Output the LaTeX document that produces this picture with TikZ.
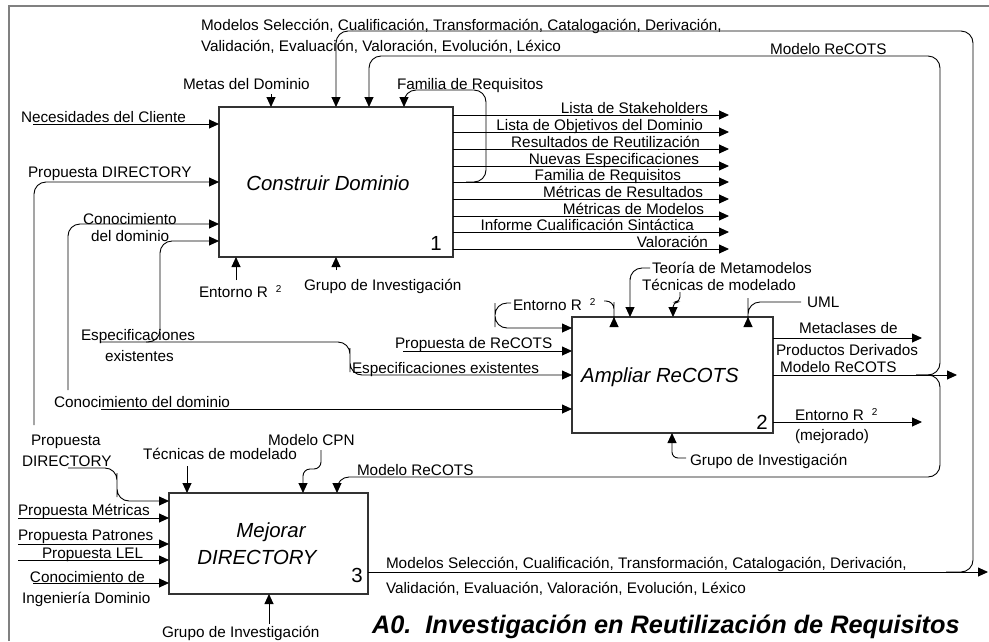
\documentclass[tikz,border=0pt]{standalone}
\usepackage{fontspec}
\setmainfont{Liberation Sans}
\usetikzlibrary{arrows.meta}
\newcommand\entornoRdos{Entorno R\hspace{8pt}\raisebox{5pt}{\fontsize{10}{10}\selectfont 2}}
\begin{document}
\begin{tikzpicture}[x=1pt,y=-1pt,
  every node/.style={inner sep=0pt, outer sep=0pt},
  lbl/.style={font=\fontsize{15.3}{18}\selectfont, anchor=base west},
  lblr/.style={font=\fontsize{15.3}{18}\selectfont, anchor=base east},
  box/.style={draw=black!80, line width=1.2pt, fill=white},
  ttl/.style={font=\fontsize{20.4}{24}\selectfont\itshape, anchor=base},
  num/.style={font=\fontsize{20.4}{24}\selectfont, anchor=base},
  arr/.style={line width=0.9pt, -{Triangle[length=10pt,width=9pt]}},
  rc/.style={rounded corners=12pt},
  frame/.style={draw=black!50, line width=2pt}
]
\useasboundingbox (0,0) rectangle (989,641);
\draw[frame] (9,641) -- (9,6) -- (989,6);

% activity boxes
\node[box, minimum width=234pt, minimum height=150pt] (b1) at (336,182) {};
\node[box, minimum width=201pt, minimum height=116pt] (b2) at (672.5,375) {};
\node[box, minimum width=199pt, minimum height=101pt] (b3) at (268.5,543.5) {};

\node[ttl] (t1) at (328,190) {Construir Dominio};
\node[num] (n1) at (436,250) {1};
\node[ttl] (t2) at (660,382) {Ampliar ReCOTS};
\node[num] (n2) at (762,429) {2};
\node[ttl] (t3a) at (271,537) {Mejorar};
\node[ttl] (t3b) at (257,564) {DIRECTORY};
\node[num] (n3) at (357,582) {3};

% ---------- labels around box 1
\node[lbl] (lMod1) at (201,30) {Modelos Selección, Cualificación, Transformación, Catalogación, Derivación,};
\node[lbl] (lMod2) at (201,51) {Validación, Evaluación, Valoración, Evolución, Léxico};
\node[lbl] (lRec1) at (770,54) {Modelo ReCOTS};
\node[lbl] (lMetas) at (183,89) {Metas del Dominio};
\node[lbl] (lFamT) at (397,89) {Familia de Requisitos};
\node[lbl] (lNec) at (21,122) {Necesidades del Cliente};
\node[lbl] (lDir1) at (28,177) {Propuesta DIRECTORY};
\node[lbl] (lCon1a) at (83,224) {Conocimiento};
\node[lbl] (lCon1b) at (91,241) {del dominio};
\node[lbl] (lEnt1) at (199,297) {\entornoRdos};
\node[lbl] (lGru1) at (304,290) {Grupo de Investigación};

\node[lblr] (o1l) at (708,113) {Lista de Stakeholders};
\node[lblr] (o2l) at (703,130) {Lista de Objetivos del Dominio};
\node[lblr] (o3l) at (700,147) {Resultados de Reutilización};
\node[lblr] (o4l) at (699,164) {Nuevas Especificaciones};
\node[lblr] (o5l) at (681,180) {Familia de Requisitos};
\node[lblr] (o6l) at (703,197) {Métricas de Resultados};
\node[lblr] (o7l) at (704,214) {Métricas de Modelos};
\node[lblr] (o8l) at (694,230) {Informe Cualificación Sintáctica};
\node[lblr] (o9l) at (708,247) {Valoración};

% ---------- labels around box 2
\node[lbl] (lTeo) at (652,273) {Teoría de Metamodelos};
\node[lbl] (lTec2) at (642,290) {Técnicas de modelado};
\node[lbl] (lEnt2) at (513,310) {\entornoRdos};
\node[lbl] (lUml) at (807,307) {UML};
\node[lbl] (lEsp1a) at (81,340) {Especificaciones};
\node[lbl] (lEsp1b) at (105,361) {existentes};
\node[lbl] (lProRe) at (395,348) {Propuesta de ReCOTS};
\node[lbl] (lEsp2) at (352,373) {Especificaciones existentes};
\node[lbl] (lCon2) at (54,407) {Conocimiento del dominio};
\node[lbl] (lMeta1) at (799,333) {Metaclases de};
\node[lbl] (lMeta2) at (776,355) {Productos Derivados};
\node[lbl] (lRec2) at (780,372) {Modelo ReCOTS};
\node[lbl] (lEnt3) at (795,420) {\entornoRdos};
\node[lbl] (lMej) at (795,440) {(mejorado)};
\node[lbl] (lGru2) at (690,465) {Grupo de Investigación};

% ---------- labels around box 3
\node[lbl] (lDir3a) at (31,445) {Propuesta};
\node[lbl] (lDir3b) at (22,466) {DIRECTORY};
\node[lbl] (lTec3) at (143,459) {Técnicas de modelado};
\node[lbl] (lCpn) at (268,445) {Modelo CPN};
\node[lbl] (lRec3) at (357,475) {Modelo ReCOTS};
\node[lbl] (lMet) at (18,515) {Propuesta Métricas};
\node[lbl] (lPat) at (18,540) {Propuesta Patrones};
\node[lbl] (lLel) at (42,558) {Propuesta LEL};
\node[lbl] (lCIa) at (30,582) {Conocimiento de};
\node[lbl] (lCIb) at (22,603) {Ingeniería Dominio};
\node[lbl] (lGru3) at (162,637) {Grupo de Investigación};
\node[lbl] (lOut3a) at (386,568) {Modelos Selección, Cualificación, Transformación, Catalogación, Derivación,};
\node[lbl] (lOut3b) at (386,593) {Validación, Evaluación, Valoración, Evolución, Léxico};

\node[font=\fontsize{25.3}{30}\selectfont\bfseries\itshape, anchor=base west] (title) at (372,633)
  {A0.\ \ Investigación en Reutilización de Requisitos};

% ---------- free ends of the arrows
\coordinate (inNec) at (33,124);
\coordinate (inDir) at (34,425);
\coordinate (inCon) at (68,390);
\coordinate (esJoin) at (146,342);
\coordinate (esStart) at (100,342);
\coordinate (conStart) at (101,409);
\coordinate (proRe) at (403,351);
\coordinate (metas) at (271,94);
\coordinate (modJoin) at (946,572);
\coordinate (recJoin) at (916,375);
\coordinate (famJoin) at (466,182);
\coordinate (ent1) at (236,280);
\coordinate (gru1) at (336,270);
\coordinate (entLoop) at (511,303);
\coordinate (entHook) at (604,301);
\coordinate (teo) at (650,268);
\coordinate (tec2) at (680,292);
\coordinate (uml) at (801,302);
\coordinate (oMeta) at (922,338);
\coordinate (oRec) at (957,375);
\coordinate (oEnt) at (922,422);
\coordinate (gru2) at (686,458);
\coordinate (dir3) at (68,468);
\coordinate (met3) at (18,518);
\coordinate (pat3) at (18,544);
\coordinate (lel3) at (18,560);
\coordinate (ci3) at (33,583);
\coordinate (tec3) at (187,466);
\coordinate (cpn) at (321,450);
\coordinate (gru3) at (269,624);
\coordinate (oMod) at (988,572);

% ---------- box 1 inputs and controls
\draw[arr] (inNec) -- (inNec -| b1.west);
\draw[arr, rc] (inDir) |- (b1.west |- 0,182);
\draw[arr, rc] (inCon) |- (b1.west |- 0,224);
\draw[arr, rc] (esJoin) -| (160,300) |- (b1.west |- 0,241);
\draw[arr] (metas) -- (metas |- b1.north);
\draw[arr, rc] (modJoin) -| (973,300) |- (336,31) -- (336,31 |- b1.north);
\draw[arr, rc] (recJoin) -| (940,200) |- (369,56) -- (369,56 |- b1.north);
\draw[arr, rc] (famJoin) -| (486,130) |- (404,90) -- (404,90 |- b1.north);
\draw[arr] (ent1) -- (ent1 |- b1.south);
\draw[arr] (gru1) -- (gru1 |- b1.south);

% ---------- box 1 outputs
\foreach \y [count=\i] in {115,132,149,166,182,199,216,232,249}
  \draw[arr] (b1.east |- 0,\y) -- (729,\y) coordinate (o\i);

% ---------- box 2
\draw[arr, rc] (entLoop) -| (495,315) |- (b2.west |- 0,328);
\draw[arr] (proRe) -- (proRe -| b2.west);
\draw[arr, rc] (esStart) -| (350,360) |- (b2.west |- 0,375);
\draw[arr] (conStart) -- (conStart -| b2.west);
\draw[arr, rounded corners=8pt] (entHook) -| (614,310) -- (614,310 |- b2.north);
\draw[arr, rc] (teo) -| (630,290) -- (630,290 |- b2.north);
\draw[arr, rounded corners=5pt] (tec2) |- (673,302) -- (673,302 |- b2.north);
\draw[arr, rc] (uml) -| (748,310) -- (748,310 |- b2.north);
\draw[arr] (b2.east |- oMeta) -- (oMeta);
\draw[arr] (b2.east |- oRec) -- (oRec);
\draw[arr] (b2.east |- oEnt) -- (oEnt);
\draw[arr, rounded corners=6pt] (gru2) -| (672,445) -- (672,445 |- b2.south);
\draw[arr, rc] (recJoin) -| (940,420) |- (337,477) -- (337,477 |- b3.north);

% ---------- box 3
\draw[arr, rc] (dir3) -| (117,485) |- (b3.west |- 0,501);
\draw[arr] (met3) -- (met3 -| b3.west);
\draw[arr] (pat3) -- (pat3 -| b3.west);
\draw[arr] (lel3) -- (lel3 -| b3.west);
\draw[arr] (ci3) -- (ci3 -| b3.west);
\draw[arr] (tec3) -- (tec3 |- b3.north);
\draw[arr, rounded corners=7pt] (cpn) |- (303,469) -- (303,469 |- b3.north);
\draw[arr] (gru3) -- (gru3 |- b3.south);
\draw[arr] (b3.east |- oMod) -- (oMod);
\end{tikzpicture}
\end{document}
